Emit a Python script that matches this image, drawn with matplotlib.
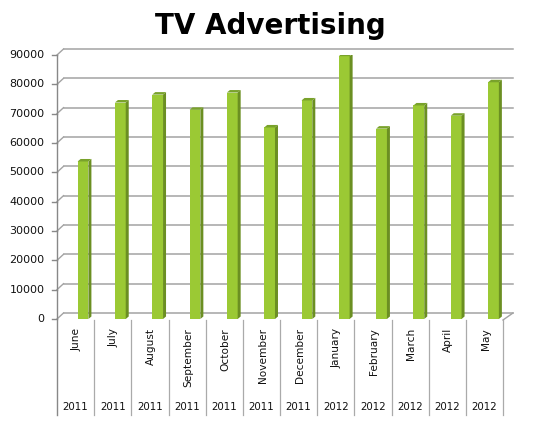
import matplotlib
matplotlib.use("Agg")
import matplotlib.pyplot as plt
from matplotlib.patches import Polygon

# data
months = ["June", "July", "August", "September", "October", "November",
          "December", "January", "February", "March", "April", "May"]
years = ["2011", "2011", "2011", "2011", "2011", "2011",
         "2011", "2012", "2012", "2012", "2012", "2012"]
spend = [53700, 73800, 76500, 71300, 77200, 65300,
         74500, 89600, 64900, 72800, 69300, 80700]
yticks = list(range(0, 90001, 10000))

W, H = 533, 428
fig = plt.figure(figsize=(W / 100, H / 100), dpi=100)
x0, x1, ytop, ybot = 57, 503, 55, 319
ax = fig.add_axes([x0 / W, 1 - ybot / H, (x1 - x0) / W, (ybot - ytop) / H])
n = len(months)
ax.set_xlim(0, n)
ax.set_ylim(0, 90000)
ax.axis("off")

# pixel -> data unit helpers
ux = n / (x1 - x0)
uy = 90000 / (ybot - ytop)
DX, DY = 6.5 * ux, 6 * uy      # back wall offset
bdx, bdy = 3 * ux, 2.5 * uy    # bar depth

grid_c = "#a3a3a3"
for v in yticks:
    ax.plot([DX, n + 10 * ux], [v + DY, v + DY], color=grid_c, lw=1.1, clip_on=False)
    ax.plot([0, DX], [v, v + DY], color=grid_c, lw=1.0, clip_on=False)
    ax.plot([-5 * ux, 0], [v, v], color="#888888", lw=1.0, clip_on=False)
    ax.text(-12.5 * ux, v, str(v), ha="right", va="center", fontsize=8,
            family="DejaVu Sans", color="#111111")

# right floor edge
ax.plot([n, n + 10 * ux], [-1 * uy, DY], color=grid_c, lw=1.0, clip_on=False)

# axis line and category separators
low = -96 * uy
ax.plot([0, 0], [90000, low], color="#888888", lw=1.0, clip_on=False)
for k in range(1, n + 1):
    ax.plot([k, k], [-1 * uy, low], color="#aaaaaa", lw=0.9, clip_on=False)

# bars: front faces through ax.bar, side and top faces as offsets
front_c, side_c, top_c = "#9bc934", "#6b8f22", "#79a22b"
w = 0.29
xs = [i + 0.555 + 0.004 * i for i in range(n)]
ax.bar(xs, spend, width=w, align="edge", color=front_c, zorder=3)
for x, v in zip(xs, spend):
    ax.add_patch(Polygon([(x + w, 0), (x + w + bdx, bdy), (x + w + bdx, v + bdy), (x + w, v)],
                         closed=True, facecolor=side_c, edgecolor="none", zorder=3))
    ax.add_patch(Polygon([(x, v), (x + bdx, v + bdy), (x + w + bdx, v + bdy), (x + w, v)],
                         closed=True, facecolor=top_c, edgecolor="none", zorder=3))

# category labels
for i, (m, yr) in enumerate(zip(months, years)):
    ax.text(i + 0.53, -9 * uy, m, rotation=90, ha="center", va="top",
            fontsize=7.6, family="DejaVu Sans", color="#111111")
    ax.text(i + 0.5, -88 * uy, yr, ha="center", va="center",
            fontsize=7.4, family="DejaVu Sans", color="#111111")

fig.text(270 / W, 1 - 26 / H, "TV Advertising", ha="center", va="center",
         fontsize=20, fontweight="bold", family="DejaVu Sans")

fig.savefig("out.png", dpi=100)
